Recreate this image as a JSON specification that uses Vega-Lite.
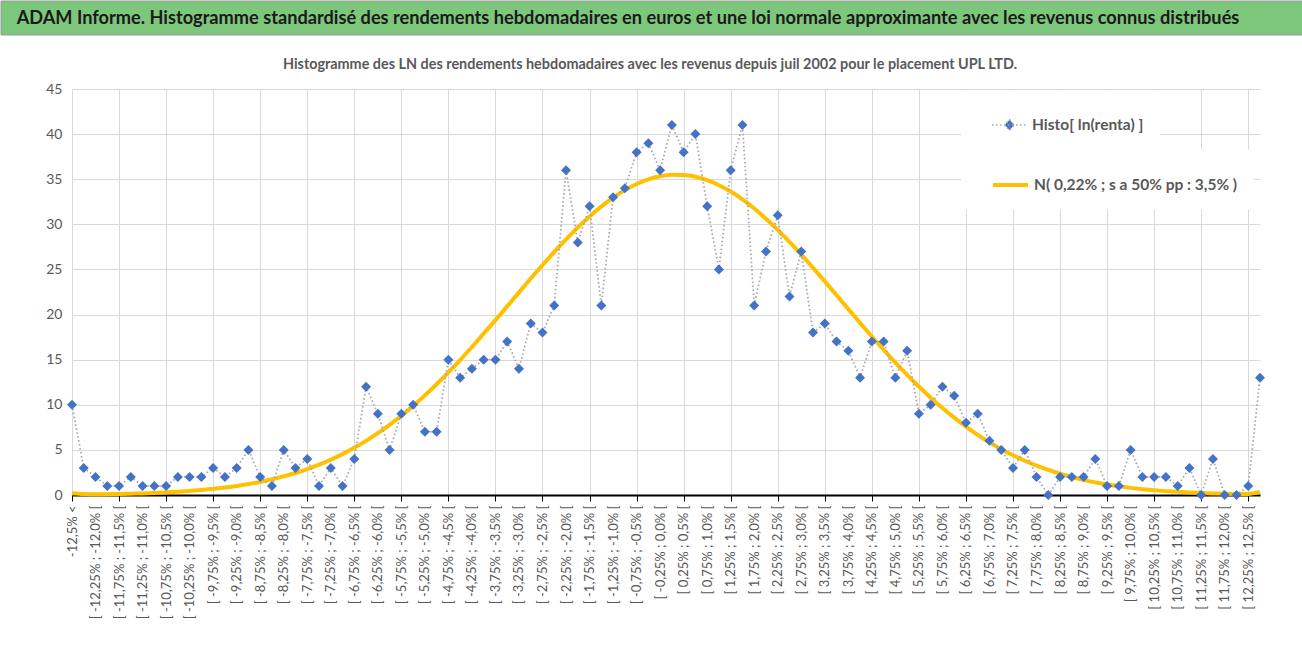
{
  "$schema": "https://vega.github.io/schema/vega-lite/v6.json",
  "background": "white",
  "padding": 0,
  "spacing": 20,
  "config": {
    "view": {"stroke": null}
  },
  "vconcat": [
    {
      "width": 1302,
      "height": 34,
      "data": {"values": [{"titre": "ADAM Informe. Histogramme standardisé des rendements hebdomadaires en euros et une loi normale approximante avec les revenus connus distribués"}]},
      "layer": [
        {
          "mark": {"type": "rect", "fill": "#7DC77D", "stroke": "#9A9A9A", "strokeWidth": 1},
          "encoding": {}
        },
        {
          "mark": {"type": "text", "align": "center", "baseline": "middle", "dx": -24, "dy": 1, "font": "Lato", "fontSize": 18.2, "fontWeight": "bold", "color": "#1A1A1A", "limit": 1290},
          "encoding": {"text": {"field": "titre"}}
        }
      ]
    },
    {
      "width": 1302,
      "height": 406,
      "title": {
        "text": "Histogramme des LN des rendements hebdomadaires avec les revenus depuis juil 2002 pour le placement UPL LTD.",
        "font": "Lato",
        "fontSize": 14.4,
        "fontWeight": "bold",
        "color": "#595959",
        "anchor": "middle",
        "frame": "group",
        "offset": 10,
        "dx": -2
      },
      "data": {
        "values": [
          {"classe": "-12,5% <", "histo": 10, "normale": 0.2},
          {"classe": "[ -12,5% ; -12,25% [", "histo": 3, "normale": 0.1},
          {"classe": "[ -12,25% ; -12,0% [", "histo": 2, "normale": 0.07},
          {"classe": "[ -12,0% ; -11,75% [", "histo": 1, "normale": 0.09},
          {"classe": "[ -11,75% ; -11,5% [", "histo": 1, "normale": 0.12},
          {"classe": "[ -11,5% ; -11,25% [", "histo": 2, "normale": 0.15},
          {"classe": "[ -11,25% ; -11,0% [", "histo": 1, "normale": 0.18},
          {"classe": "[ -11,0% ; -10,75% [", "histo": 1, "normale": 0.23},
          {"classe": "[ -10,75% ; -10,5% [", "histo": 1, "normale": 0.29},
          {"classe": "[ -10,5% ; -10,25% [", "histo": 2, "normale": 0.36},
          {"classe": "[ -10,25% ; -10,0% [", "histo": 2, "normale": 0.45},
          {"classe": "[ -10,0% ; -9,75% [", "histo": 2, "normale": 0.55},
          {"classe": "[ -9,75% ; -9,5% [", "histo": 3, "normale": 0.68},
          {"classe": "[ -9,5% ; -9,25% [", "histo": 2, "normale": 0.82},
          {"classe": "[ -9,25% ; -9,0% [", "histo": 3, "normale": 1.0},
          {"classe": "[ -9,0% ; -8,75% [", "histo": 5, "normale": 1.21},
          {"classe": "[ -8,75% ; -8,5% [", "histo": 2, "normale": 1.45},
          {"classe": "[ -8,5% ; -8,25% [", "histo": 1, "normale": 1.74},
          {"classe": "[ -8,25% ; -8,0% [", "histo": 5, "normale": 2.06},
          {"classe": "[ -8,0% ; -7,75% [", "histo": 3, "normale": 2.44},
          {"classe": "[ -7,75% ; -7,5% [", "histo": 4, "normale": 2.87},
          {"classe": "[ -7,5% ; -7,25% [", "histo": 1, "normale": 3.36},
          {"classe": "[ -7,25% ; -7,0% [", "histo": 3, "normale": 3.91},
          {"classe": "[ -7,0% ; -6,75% [", "histo": 1, "normale": 4.53},
          {"classe": "[ -6,75% ; -6,5% [", "histo": 4, "normale": 5.23},
          {"classe": "[ -6,5% ; -6,25% [", "histo": 12, "normale": 6.0},
          {"classe": "[ -6,25% ; -6,0% [", "histo": 9, "normale": 6.85},
          {"classe": "[ -6,0% ; -5,75% [", "histo": 5, "normale": 7.78},
          {"classe": "[ -5,75% ; -5,5% [", "histo": 9, "normale": 8.78},
          {"classe": "[ -5,5% ; -5,25% [", "histo": 10, "normale": 9.87},
          {"classe": "[ -5,25% ; -5,0% [", "histo": 7, "normale": 11.04},
          {"classe": "[ -5,0% ; -4,75% [", "histo": 7, "normale": 12.28},
          {"classe": "[ -4,75% ; -4,5% [", "histo": 15, "normale": 13.59},
          {"classe": "[ -4,5% ; -4,25% [", "histo": 13, "normale": 14.96},
          {"classe": "[ -4,25% ; -4,0% [", "histo": 14, "normale": 16.4},
          {"classe": "[ -4,0% ; -3,75% [", "histo": 15, "normale": 17.88},
          {"classe": "[ -3,75% ; -3,5% [", "histo": 15, "normale": 19.38},
          {"classe": "[ -3,5% ; -3,25% [", "histo": 17, "normale": 20.91},
          {"classe": "[ -3,25% ; -3,0% [", "histo": 14, "normale": 22.46},
          {"classe": "[ -3,0% ; -2,75% [", "histo": 19, "normale": 23.99},
          {"classe": "[ -2,75% ; -2,5% [", "histo": 18, "normale": 25.48},
          {"classe": "[ -2,5% ; -2,25% [", "histo": 21, "normale": 26.94},
          {"classe": "[ -2,25% ; -2,0% [", "histo": 36, "normale": 28.33},
          {"classe": "[ -2,0% ; -1,75% [", "histo": 28, "normale": 29.65},
          {"classe": "[ -1,75% ; -1,5% [", "histo": 32, "normale": 30.87},
          {"classe": "[ -1,5% ; -1,25% [", "histo": 21, "normale": 31.97},
          {"classe": "[ -1,25% ; -1,0% [", "histo": 33, "normale": 32.95},
          {"classe": "[ -1,0% ; -0,75% [", "histo": 34, "normale": 33.79},
          {"classe": "[ -0,75% ; -0,5% [", "histo": 38, "normale": 34.47},
          {"classe": "[ -0,5% ; -0,25% [", "histo": 39, "normale": 34.98},
          {"classe": "[ -0,25% ; 0,0% [", "histo": 36, "normale": 35.32},
          {"classe": "[ 0,0% ; 0,25% [", "histo": 41, "normale": 35.49},
          {"classe": "[ 0,25% ; 0,5% [", "histo": 38, "normale": 35.47},
          {"classe": "[ 0,5% ; 0,75% [", "histo": 40, "normale": 35.27},
          {"classe": "[ 0,75% ; 1,0% [", "histo": 32, "normale": 34.89},
          {"classe": "[ 1,0% ; 1,25% [", "histo": 25, "normale": 34.34},
          {"classe": "[ 1,25% ; 1,5% [", "histo": 36, "normale": 33.63},
          {"classe": "[ 1,5% ; 1,75% [", "histo": 41, "normale": 32.77},
          {"classe": "[ 1,75% ; 2,0% [", "histo": 21, "normale": 31.76},
          {"classe": "[ 2,0% ; 2,25% [", "histo": 27, "normale": 30.62},
          {"classe": "[ 2,25% ; 2,5% [", "histo": 31, "normale": 29.39},
          {"classe": "[ 2,5% ; 2,75% [", "histo": 22, "normale": 28.05},
          {"classe": "[ 2,75% ; 3,0% [", "histo": 27, "normale": 26.65},
          {"classe": "[ 3,0% ; 3,25% [", "histo": 18, "normale": 25.18},
          {"classe": "[ 3,25% ; 3,5% [", "histo": 19, "normale": 23.68},
          {"classe": "[ 3,5% ; 3,75% [", "histo": 17, "normale": 22.15},
          {"classe": "[ 3,75% ; 4,0% [", "histo": 16, "normale": 20.6},
          {"classe": "[ 4,0% ; 4,25% [", "histo": 13, "normale": 19.08},
          {"classe": "[ 4,25% ; 4,5% [", "histo": 17, "normale": 17.57},
          {"classe": "[ 4,5% ; 4,75% [", "histo": 17, "normale": 16.1},
          {"classe": "[ 4,75% ; 5,0% [", "histo": 13, "normale": 14.68},
          {"classe": "[ 5,0% ; 5,25% [", "histo": 16, "normale": 13.32},
          {"classe": "[ 5,25% ; 5,5% [", "histo": 9, "normale": 12.02},
          {"classe": "[ 5,5% ; 5,75% [", "histo": 10, "normale": 10.79},
          {"classe": "[ 5,75% ; 6,0% [", "histo": 12, "normale": 9.64},
          {"classe": "[ 6,0% ; 6,25% [", "histo": 11, "normale": 8.58},
          {"classe": "[ 6,25% ; 6,5% [", "histo": 8, "normale": 7.58},
          {"classe": "[ 6,5% ; 6,75% [", "histo": 9, "normale": 6.67},
          {"classe": "[ 6,75% ; 7,0% [", "histo": 6, "normale": 5.83},
          {"classe": "[ 7,0% ; 7,25% [", "histo": 5, "normale": 5.08},
          {"classe": "[ 7,25% ; 7,5% [", "histo": 3, "normale": 4.4},
          {"classe": "[ 7,5% ; 7,75% [", "histo": 5, "normale": 3.8},
          {"classe": "[ 7,75% ; 8,0% [", "histo": 2, "normale": 3.26},
          {"classe": "[ 8,0% ; 8,25% [", "histo": 0, "normale": 2.78},
          {"classe": "[ 8,25% ; 8,5% [", "histo": 2, "normale": 2.36},
          {"classe": "[ 8,5% ; 8,75% [", "histo": 2, "normale": 1.99},
          {"classe": "[ 8,75% ; 9,0% [", "histo": 2, "normale": 1.68},
          {"classe": "[ 9,0% ; 9,25% [", "histo": 4, "normale": 1.4},
          {"classe": "[ 9,25% ; 9,5% [", "histo": 1, "normale": 1.16},
          {"classe": "[ 9,5% ; 9,75% [", "histo": 1, "normale": 0.96},
          {"classe": "[ 9,75% ; 10,0% [", "histo": 5, "normale": 0.79},
          {"classe": "[ 10,0% ; 10,25% [", "histo": 2, "normale": 0.65},
          {"classe": "[ 10,25% ; 10,5% [", "histo": 2, "normale": 0.53},
          {"classe": "[ 10,5% ; 10,75% [", "histo": 2, "normale": 0.43},
          {"classe": "[ 10,75% ; 11,0% [", "histo": 1, "normale": 0.35},
          {"classe": "[ 11,0% ; 11,25% [", "histo": 3, "normale": 0.28},
          {"classe": "[ 11,25% ; 11,5% [", "histo": 0, "normale": 0.22},
          {"classe": "[ 11,5% ; 11,75% [", "histo": 4, "normale": 0.18},
          {"classe": "[ 11,75% ; 12,0% [", "histo": 0, "normale": 0.14},
          {"classe": "[ 12,0% ; 12,25% [", "histo": 0, "normale": 0.11},
          {"classe": "[ 12,25% ; 12,5% [", "histo": 1, "normale": 0.12},
          {"classe": "> 12,5%", "histo": 13, "normale": 0.35}
        ]
      },
      "encoding": {
        "x": {
          "field": "classe",
          "type": "ordinal",
          "sort": null,
          "scale": {"type": "point", "range": [71, 1259], "padding": 0},
          "axis": {
            "title": null,
            "values": [
              "-12,5% <", "[ -12,25% ; -12,0% [", "[ -11,75% ; -11,5% [", "[ -11,25% ; -11,0% [",
              "[ -10,75% ; -10,5% [", "[ -10,25% ; -10,0% [", "[ -9,75% ; -9,5% [", "[ -9,25% ; -9,0% [",
              "[ -8,75% ; -8,5% [", "[ -8,25% ; -8,0% [", "[ -7,75% ; -7,5% [", "[ -7,25% ; -7,0% [",
              "[ -6,75% ; -6,5% [", "[ -6,25% ; -6,0% [", "[ -5,75% ; -5,5% [", "[ -5,25% ; -5,0% [",
              "[ -4,75% ; -4,5% [", "[ -4,25% ; -4,0% [", "[ -3,75% ; -3,5% [", "[ -3,25% ; -3,0% [",
              "[ -2,75% ; -2,5% [", "[ -2,25% ; -2,0% [", "[ -1,75% ; -1,5% [", "[ -1,25% ; -1,0% [",
              "[ -0,75% ; -0,5% [", "[ -0,25% ; 0,0% [", "[ 0,25% ; 0,5% [", "[ 0,75% ; 1,0% [",
              "[ 1,25% ; 1,5% [", "[ 1,75% ; 2,0% [", "[ 2,25% ; 2,5% [", "[ 2,75% ; 3,0% [",
              "[ 3,25% ; 3,5% [", "[ 3,75% ; 4,0% [", "[ 4,25% ; 4,5% [", "[ 4,75% ; 5,0% [",
              "[ 5,25% ; 5,5% [", "[ 5,75% ; 6,0% [", "[ 6,25% ; 6,5% [", "[ 6,75% ; 7,0% [",
              "[ 7,25% ; 7,5% [", "[ 7,75% ; 8,0% [", "[ 8,25% ; 8,5% [", "[ 8,75% ; 9,0% [",
              "[ 9,25% ; 9,5% [", "[ 9,75% ; 10,0% [", "[ 10,25% ; 10,5% [", "[ 10,75% ; 11,0% [",
              "[ 11,25% ; 11,5% [", "[ 11,75% ; 12,0% [", "[ 12,25% ; 12,5% ["
            ],
            "labelAngle": -90,
            "labelFont": "Lato",
            "labelFontSize": 13,
            "labelColor": "#595959",
            "labelPadding": 4,
            "labelOverlap": false,
            "labelLimit": 250,
            "domainColor": "#000000",
            "domainWidth": 2,
            "tickColor": "#000000",
            "tickSize": 6,
            "tickWidth": 1,
            "tickOpacity": {
              "condition": {"test": "datum.value === '-12,5% <' || test(regexp('^[[] (-[0-9]+,75|[0-9]+,25)%'), datum.value)", "value": 1},
              "value": 0
            },
            "grid": true,
            "gridColor": "#D9D9D9",
            "gridWidth": 1,
            "gridOpacity": {
              "condition": {"test": "datum.value === '-12,5% <' || test(regexp('^[[] (-[0-9]+,75|[0-9]+,25)%'), datum.value)", "value": 1},
              "value": 0
            }
          }
        }
      },
      "resolve": {"scale": {"color": "independent"}},
      "layer": [
        {
          "mark": {"type": "line", "strokeWidth": 4, "interpolate": "monotone"},
          "encoding": {
            "y": {
              "field": "normale",
              "type": "quantitative",
              "scale": {"domain": [0, 45], "nice": false},
              "axis": {
                "title": null,
                "values": [0, 5, 10, 15, 20, 25, 30, 35, 40, 45],
                "offset": -71,
                "domain": false,
                "ticks": false,
                "tickSize": 0,
                "labelPadding": 10,
                "labelFont": "Lato",
                "labelFontSize": 14,
                "labelColor": "#595959",
                "grid": true,
                "gridColor": "#D9D9D9",
                "gridWidth": 1
              }
            },
            "color": {
              "datum": "N( 0,22% ; s a 50% pp : 3,5% )",
              "scale": {"domain": ["N( 0,22% ; s a 50% pp : 3,5% )"], "range": ["#FFC000"]},
              "legend": {
                "title": null,
                "orient": "none",
                "direction": "vertical",
                "legendX": 960,
                "legendY": 60.5,
                "fillColor": "white",
                "padding": 16,
                "symbolType": "stroke",
                "symbolSize": 1225,
                "symbolOffset": 14,
                "symbolStrokeWidth": 4,
                "symbolOpacity": 1,
                "labelOffset": 4,
                "labelFont": "Lato",
                "labelFontSize": 15.5,
                "labelFontWeight": "bold",
                "labelColor": "#595959",
                "labelLimit": 400,
                "labelExpr": "datum.label + '     '"
              }
            }
          }
        },
        {
          "mark": {"type": "line", "color": "#A5A5A5", "strokeWidth": 1.75, "strokeDash": [1.5, 2.5]},
          "encoding": {
            "y": {"field": "histo", "type": "quantitative", "axis": {"title": null}}
          }
        },
        {
          "mark": {"type": "point", "shape": "diamond", "filled": true, "size": 100, "opacity": 1},
          "encoding": {
            "y": {"field": "histo", "type": "quantitative", "axis": {"title": null}},
            "color": {
              "datum": "Histo[ ln(renta) ]",
              "scale": {"domain": ["Histo[ ln(renta) ]"], "range": ["#4472C4"]},
              "legend": {
                "title": null,
                "orient": "none",
                "direction": "vertical",
                "legendX": 960,
                "legendY": 1.5,
                "fillColor": "white",
                "padding": 16,
                "symbolType": "M-1,0H1M0,-0.3L0.27,0L0,0.3L-0.27,0Z",
                "symbolSize": 1225,
                "symbolOffset": 14,
                "symbolStrokeColor": "#A5A5A5",
                "symbolStrokeWidth": 1.5,
                "symbolDash": [1.5, 2.5],
                "symbolOpacity": 1,
                "labelOffset": 4,
                "labelFont": "Lato",
                "labelFontSize": 15.5,
                "labelFontWeight": "bold",
                "labelColor": "#595959",
                "labelLimit": 400,
                "labelExpr": "datum.label + '                                    '"
              }
            }
          }
        }
      ]
    }
  ]
}
